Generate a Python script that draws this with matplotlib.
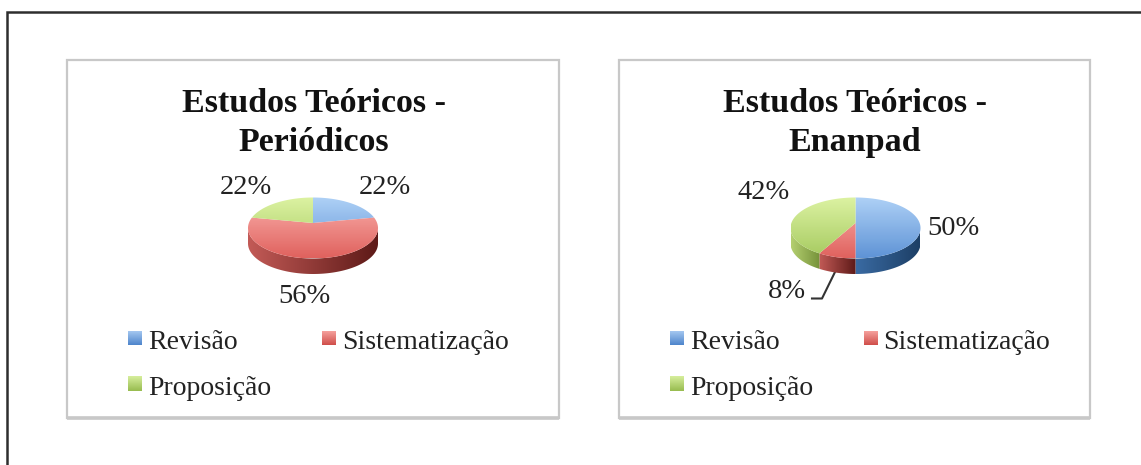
import numpy as np
import matplotlib
matplotlib.use("Agg")
import matplotlib.pyplot as plt
from matplotlib.patches import Rectangle, Polygon
from matplotlib.colors import LinearSegmentedColormap

W, H = 1141, 465
categories = ["Revisão", "Sistematização", "Proposição"]
titles = [["Estudos Teóricos -", "Periódicos"], ["Estudos Teóricos -", "Enanpad"]]
values_periodicos = [22, 56, 22]
values_enanpad = [50, 8, 42]

top_colors = [("#aed0f6", "#5f94d6"), ("#fab0ac", "#e0625e"), ("#dcf2a2", "#a6ca60")]
side_colors = [("#3a6ba3", "#1d3f66"), ("#c25a56", "#5e1a18"), ("#b4cf70", "#76923a")]
swatch_colors = [("#a3c6f0", "#4f86cc"), ("#f5a09c", "#d04f4b"), ("#d6ee9c", "#98bc50")]

plt.rcParams["font.family"] = ["Liberation Serif", "DejaVu Serif"]
fig = plt.figure(figsize=(W / 100, H / 100), dpi=100, facecolor="white")
bg = fig.add_axes([0, 0, 1, 1])
bg.set_xlim(0, W); bg.set_ylim(H, 0); bg.axis("off")

bg.plot([6.5, 6.5, 1141], [465, 12, 12], color="#2e2e2e", lw=1.8, solid_joinstyle="miter")


def cmap(a, b):
    return LinearSegmentedColormap.from_list("g", [a, b])


def gradient(ax, extent, colors, patch, vertical=True, z=3):
    grad = np.linspace(0, 1, 64)
    grad = grad[:, None] if vertical else grad[None, :]
    im = ax.imshow(grad, extent=extent, cmap=cmap(*colors), aspect="auto", origin="upper", zorder=z)
    im.set_clip_path(patch)


def perspective(X, Y, c=0.164):
    # tilted view: the circle stays an ellipse, the centre moves up
    den = 1 + c * Y
    return X * np.sqrt(1 - c ** 2) / den, (Y + c) / den


def draw_pie(cx, values):
    rx, ry, depth, cy = 65, 30.5, 15.5, 228
    ax = fig.add_axes([(cx - rx) / W, 1 - (cy + ry + depth) / H, 2 * rx / W, (2 * ry + depth) / H])
    wedges, _ = ax.pie(values, startangle=90, counterclock=False, radius=1,
                       wedgeprops=dict(linewidth=0))
    ax.set_aspect("auto")
    d = depth / ry
    for i, w in enumerate(wedges):
        w.set_visible(False)
        t = np.radians(np.linspace(w.theta1, w.theta2, 200))
        x, y = perspective(np.cos(t), np.sin(t))
        # side wall: the part of this slice's rim on the near half
        keep = y <= 0
        if keep.sum() > 1:
            xs, ys = x[keep], y[keep]
            pts = np.r_[np.c_[xs, ys - d], np.c_[xs[::-1], ys[::-1]]]
            side = Polygon(pts, closed=True, fc="none", ec="none")
            ax.add_patch(side)
            gradient(ax, (xs.min(), xs.max(), -1 - d, 0), side_colors[i], side, vertical=False)
        x0, y0 = perspective(np.array([0.0]), np.array([0.0]))
        top = Polygon(np.r_[np.c_[x0, y0], np.c_[x, y]], closed=True, fc="none", ec="none")
        ax.add_patch(top)
        gradient(ax, (-1, 1, -1, 1), top_colors[i], top, z=4)
    ax.set_xlim(-1, 1); ax.set_ylim(-1 - d, 1)
    ax.axis("off")
    return ax


def swatch(px, py, colors):
    grad = np.linspace(0, 1, 32)[:, None]
    bg.imshow(grad, extent=(px, px + 14, py + 14, py), cmap=cmap(*colors), aspect="auto",
              origin="upper", zorder=3)


def panel(x0, x1, title, tx, labels, swx, swx2, txt2):
    bg.add_patch(Rectangle((x0, 60), x1 - x0, 358, fc="white", ec="#c8c8c8", lw=1.6))
    bg.plot([x0, x1], [418, 418], color="#c8c8c8", lw=2.6, solid_capstyle="butt")
    for k, line in enumerate(title):
        bg.text(tx, 103.5 + 38.5 * k, line, ha="center", va="center", fontsize=24.5,
                fontweight="bold", color="#111111")
    for (s, lx, ly) in labels:
        bg.text(lx, ly, s, ha="center", va="center", fontsize=20.5, color="#222222")
    pos = [(swx, 331, swx + 20), (swx2, 331, txt2), (swx, 377, swx + 20)]
    for i, (px, py, qx) in enumerate(pos):
        swatch(px, py, swatch_colors[i])
        bg.text(qx, py + 11, categories[i], ha="left", va="center", fontsize=20,
                color="#222222")


panel(67, 559, titles[0], 314,
      [(f"{values_periodicos[2]}%", 245.5, 187), (f"{values_periodicos[0]}%", 385, 187),
       (f"{values_periodicos[1]}%", 304, 296)], 128, 322, 342)
panel(619, 1090, titles[1], 855,
      [(f"{values_enanpad[2]}%", 763.5, 192), (f"{values_enanpad[0]}%", 953, 228),
       (f"{values_enanpad[1]}%", 786.5, 291)], 670, 864, 883)
bg.plot([812, 822, 835], [298.5, 298.5, 272], color="#333333", lw=1.5)
bg.set_xlim(0, W); bg.set_ylim(H, 0)

draw_pie(313, values_periodicos)
draw_pie(855.5, values_enanpad)

fig.savefig("out.png", dpi=100)
